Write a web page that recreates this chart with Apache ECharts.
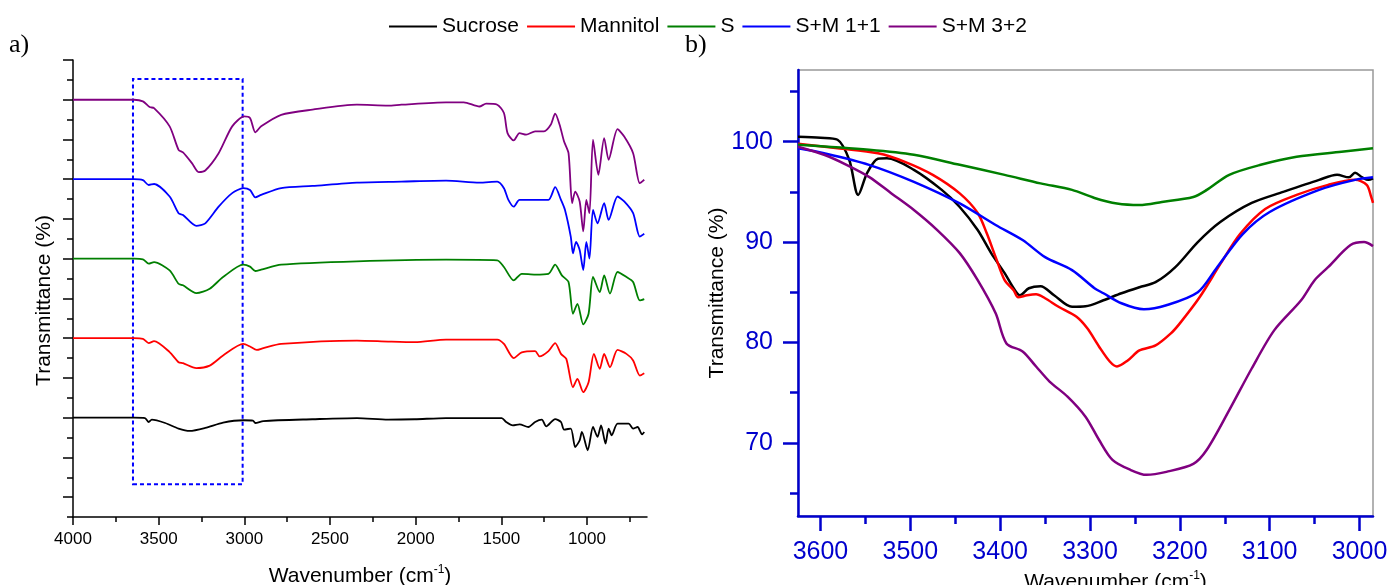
<!DOCTYPE html>
<html><head><meta charset="utf-8">
<script src="https://cdn.jsdelivr.net/npm/echarts@6/dist/echarts.min.js"></script>
<style>html,body{margin:0;padding:0;background:#fff}#c{width:1392px;height:585px}</style>
</head><body><div id="c"></div>
<script>
// ---------- names & colours ----------
const seriesNames = ['Sucrose', 'Mannitol', 'S', 'S+M 1+1', 'S+M 3+2'];
const seriesColors = ['#000000', '#FF0000', '#007F00', '#0000FF', '#800080'];

// ---------- panel a) full spectra, stacked (wavenumber, offset transmittance units) ----------
const fullSucrose = [[4000,5.0],[3644,5.0],[3580,4.98],[3558,4.78],[3540,4.90],[3462,4.73],[3384,4.45],[3319,4.33],[3228,4.48],[3124,4.75],[3006,4.87],[2950,4.85],[2936,4.73],[2889,4.83],[2603,4.92],[2343,4.98],[2161,4.90],[2005,4.92],[1823,4.98],[1498,4.98],[1472,4.78],[1433,4.61],[1394,4.66],[1342,4.53],[1303,4.78],[1264,4.90],[1238,4.56],[1186,4.93],[1152,4.78],[1134,4.40],[1095,4.45],[1069,3.52],[1043,3.86],[1030,4.28],[996,3.36],[965,4.53],[939,4.03],[918,4.61],[892,3.69],[874,4.45],[856,4.11],[822,4.70],[757,4.70],[731,4.45],[705,4.53],[679,4.16],[666,4.28]];
const fullMannitol = [[4000,9.0],[3644,9.0],[3592,8.97],[3558,8.75],[3527,8.85],[3436,8.30],[3384,7.79],[3358,7.74],[3280,7.49],[3202,7.62],[3124,8.13],[3006,8.71],[2967,8.58],[2928,8.41],[2889,8.50],[2785,8.71],[2343,8.88],[2161,8.83],[2005,8.80],[1823,8.93],[1524,8.93],[1485,8.71],[1428,8.0],[1381,8.29],[1303,8.35],[1277,8.08],[1225,8.35],[1186,8.75],[1152,8.21],[1121,7.96],[1082,6.53],[1056,6.95],[1022,6.28],[991,6.78],[960,8.21],[926,7.46],[900,8.21],[866,7.54],[822,8.41],[770,8.21],[731,7.88],[692,7.12],[666,7.24]];
const fullS = [[4000,13.0],[3644,13.0],[3592,12.97],[3558,12.75],[3527,12.83],[3436,12.41],[3384,11.74],[3358,11.66],[3280,11.27],[3202,11.49],[3124,12.08],[3006,12.70],[2967,12.60],[2936,12.38],[2902,12.45],[2785,12.70],[2343,12.87],[1823,12.95],[1524,12.92],[1485,12.58],[1428,11.91],[1381,12.24],[1303,12.2],[1225,12.24],[1186,12.70],[1147,12.16],[1108,11.83],[1082,10.23],[1056,10.73],[1022,9.69],[991,10.23],[965,12.08],[926,11.32],[900,12.16],[866,11.24],[822,12.33],[770,12.08],[731,11.83],[692,10.90],[666,10.97]];
const fullSM11 = [[4000,17.0],[3644,17.0],[3592,16.95],[3558,16.71],[3527,16.76],[3436,16.13],[3384,15.29],[3358,15.20],[3280,14.65],[3228,14.78],[3150,15.62],[3071,16.30],[3006,16.55],[2967,16.46],[2936,16.09],[2902,16.21],[2785,16.55],[2603,16.66],[2343,16.83],[2083,16.88],[1823,16.93],[1628,16.83],[1524,16.88],[1485,16.55],[1459,15.96],[1428,15.62],[1394,15.96],[1303,15.96],[1225,15.96],[1186,16.60],[1152,15.96],[1129,15.46],[1095,14.11],[1082,13.27],[1064,13.85],[1043,13.44],[1022,12.43],[1004,13.85],[986,13.01],[965,15.46],[939,14.78],[900,15.79],[874,14.95],[822,16.13],[783,15.88],[731,15.29],[692,14.11],[666,14.25]];
const fullSM32 = [[4000,21.0],[3644,21.0],[3592,20.92],[3553,20.63],[3527,20.58],[3436,19.66],[3384,18.48],[3358,18.35],[3306,17.81],[3267,17.36],[3228,17.44],[3150,18.31],[3071,19.66],[3001,20.16],[2967,20.08],[2936,19.36],[2902,19.66],[2785,20.24],[2603,20.50],[2343,20.75],[2161,20.70],[2083,20.75],[1823,20.87],[1719,20.87],[1628,20.66],[1589,20.80],[1524,20.75],[1485,20.33],[1464,19.32],[1428,18.95],[1394,19.32],[1355,19.24],[1303,19.41],[1251,19.41],[1212,19.74],[1186,20.30],[1160,19.74],[1134,18.90],[1108,18.31],[1087,15.80],[1069,16.38],[1043,15.88],[1022,14.37],[1004,15.96],[986,15.29],[965,18.99],[934,17.22],[900,19.07],[874,17.98],[822,19.52],[783,19.15],[731,18.31],[692,16.80],[666,16.97]];

// ---------- panel b) zoom 3625-2985 cm-1 (wavenumber, transmittance %) ----------
const zoomSucrose = [[3625,100.5],[3600,100.4],[3581,100.2],[3568,98.2],[3558,94.7],[3548,96.9],[3536,98.3],[3526,98.35],[3496,97.2],[3465,95.2],[3445,93.5],[3425,91.2],[3410,88.9],[3395,86.9],[3385,85.4],[3378,84.7],[3368,85.4],[3355,85.6],[3340,84.7],[3320,83.55],[3305,83.6],[3285,84.2],[3265,84.9],[3245,85.5],[3227,86.0],[3205,87.5],[3180,90.0],[3155,92.0],[3120,93.9],[3085,95.0],[3045,96.2],[3025,96.7],[3012,96.45],[3005,96.9],[2997,96.45],[2990,96.2],[2985,96.35]];
const zoomMannitol = [[3625,99.8],[3581,99.35],[3536,98.85],[3506,98.0],[3475,96.7],[3445,94.85],[3425,92.9],[3415,90.9],[3405,88.5],[3395,86.2],[3385,85.2],[3380,84.5],[3370,84.7],[3360,84.8],[3350,84.4],[3335,83.55],[3315,82.55],[3303,81.4],[3290,79.6],[3278,78.1],[3270,77.6],[3258,78.2],[3245,79.2],[3227,79.7],[3210,80.9],[3200,81.9],[3178,84.5],[3155,87.8],[3133,90.8],[3105,93.3],[3070,94.7],[3035,95.7],[3005,96.2],[2992,95.7],[2987,94.5],[2985,93.9]];
const zoomS = [[3625,99.7],[3546,99.2],[3496,98.7],[3445,97.7],[3395,96.7],[3355,95.85],[3320,95.2],[3295,94.4],[3270,93.85],[3245,93.7],[3220,94.0],[3185,94.5],[3170,95.2],[3145,96.7],[3110,97.7],[3070,98.5],[3020,99.0],[2985,99.35]];
const zoomSM11 = [[3625,99.35],[3596,98.85],[3546,97.7],[3496,96.0],[3445,93.85],[3405,91.7],[3375,90.2],[3350,88.5],[3320,87.2],[3295,85.4],[3285,84.9],[3265,83.9],[3240,83.3],[3215,83.7],[3180,85.0],[3160,87.3],[3130,90.8],[3100,93.0],[3045,95.2],[3005,96.2],[2985,96.45]];
const zoomSM32 = [[3625,99.5],[3596,98.7],[3571,97.7],[3546,96.5],[3521,94.85],[3496,93.2],[3470,91.2],[3445,88.9],[3425,86.2],[3405,82.9],[3393,79.9],[3375,79.1],[3360,77.6],[3345,76.1],[3325,74.6],[3305,72.6],[3290,70.3],[3275,68.3],[3255,67.3],[3237,66.8],[3215,67.1],[3185,67.9],[3170,69.3],[3145,73.25],[3120,77.4],[3095,81.2],[3065,84.2],[3050,86.2],[3035,87.5],[3010,89.7],[2995,90.0],[2985,89.6]];

// ---------- ticks ----------
const aXMajor = [1000,1500,2000,2500,3000,3500,4000];
const aXMinor = [750,1250,1750,2250,2750,3250,3750];
const aYMajor = [1,3,5,7,9,11,13,15,17,19,21,23];
const aYMinor = [0,2,4,6,8,10,12,14,16,18,20,22];
const bXMajor = [3000,3100,3200,3300,3400,3500,3600];
const bXMinor = [3050,3150,3250,3350,3450,3550];
const bYMajor = [70,80,90,100];
const bYMinor = [65,75,85,95,105];
// dashed zoom-region box in panel a): [wavenumber, offset units]
const zoomBox = [[3650, 1.65], [3010, 22.04]];

const fullData = [fullSucrose, fullMannitol, fullS, fullSM11, fullSM32];
const zoomData = [zoomSucrose, zoomMannitol, zoomS, zoomSM11, zoomSM32];

const FONT = 'Liberation Sans, Arial, sans-serif';
const BLUE_AX = '#0000CD';
const plain = v => String(Math.round(v));

const chart = echarts.init(document.getElementById('c'), null, {renderer: 'canvas'});

const series = [];
fullData.forEach((d, i) => {
  const s = {
    name: seriesNames[i], type: 'line', xAxisIndex: 0, yAxisIndex: 0,
    data: d, showSymbol: false, symbol: 'none', smooth: 0.25,
    lineStyle: {color: seriesColors[i], width: 1.8},
    itemStyle: {color: seriesColors[i]}, z: 3
  };
  if (i === 0) {
    s.markArea = {
      silent: true,
      itemStyle: {color: 'rgba(0,0,0,0)', borderColor: '#0000FF', borderWidth: 2, borderType: [4, 3]},
      data: [[{coord: zoomBox[0]}, {coord: zoomBox[1]}]]
    };
  }
  series.push(s);
});
zoomData.forEach((d, i) => {
  series.push({
    name: seriesNames[i], type: 'line', xAxisIndex: 2, yAxisIndex: 2,
    data: d, showSymbol: false, symbol: 'none', smooth: 0.3,
    lineStyle: {color: seriesColors[i], width: 2.5},
    itemStyle: {color: seriesColors[i]}, z: 3
  });
});

const nameRich = {
  sup: {fontSize: 12, fontFamily: FONT, color: '#000', verticalAlign: 'top', padding: [0, 0, 12, 0]}
};

chart.setOption({
  animation: false,
  backgroundColor: '#fff',
  legend: {
    data: seriesNames, left: 384, top: 11, icon: 'rect', itemWidth: 48, itemHeight: 2, itemGap: 8,
    textStyle: {fontSize: 21, fontFamily: FONT, color: '#000'}
  },
  graphic: [
    {type: 'text', left: 9, top: 32, style: {text: 'a)', font: '26px "Liberation Serif", serif', fill: '#000'}},
    {type: 'text', left: 685, top: 32, style: {text: 'b)', font: '26px "Liberation Serif", serif', fill: '#000'}}
  ],
  grid: [
    {left: 73, top: 60, width: 574, height: 457, show: false, containLabel: false, outerBoundsMode: 'none'},
    {left: 798, top: 70, width: 575, height: 446, show: true, borderColor: '#999', borderWidth: 1.5,
      backgroundColor: 'transparent', containLabel: false, outerBoundsMode: 'none'}
  ],
  xAxis: [
    {gridIndex: 0, type: 'value', min: 650, max: 4000, inverse: true,
      axisLine: {show: true, onZero: false, lineStyle: {color: '#000', width: 1.5}},
      axisTick: {show: true, inside: false, length: 8, customValues: aXMajor, lineStyle: {color: '#000', width: 1.5}},
      axisLabel: {show: true, customValues: aXMajor, formatter: plain, margin: 14, fontSize: 17, fontFamily: FONT, color: '#000'},
      splitLine: {show: false},
      name: 'Wavenumber (cm{sup|-1})', nameLocation: 'middle', nameGap: 47,
      nameTextStyle: {fontSize: 21, fontFamily: FONT, color: '#000', rich: nameRich}},
    {gridIndex: 0, type: 'value', min: 650, max: 4000, inverse: true, position: 'bottom',
      axisLine: {show: false}, axisLabel: {show: false}, splitLine: {show: false},
      axisTick: {show: true, length: 5, customValues: aXMinor, lineStyle: {color: '#000', width: 1.5}}},
    {gridIndex: 1, type: 'value', min: 2985, max: 3625, inverse: true,
      axisLine: {show: true, onZero: false, lineStyle: {color: BLUE_AX, width: 2.5}},
      axisTick: {show: true, length: 15, customValues: bXMajor, lineStyle: {color: BLUE_AX, width: 2.5}},
      axisLabel: {show: true, customValues: bXMajor, formatter: plain, margin: 24, fontSize: 25, fontFamily: FONT, color: BLUE_AX},
      splitLine: {show: false},
      name: 'Wavenumber (cm{sup|-1})', nameLocation: 'middle', nameGap: 51,
      nameTextStyle: {fontSize: 21, fontFamily: FONT, color: '#000', rich: nameRich, padding: [0, 0, 0, 60]}},
    {gridIndex: 1, type: 'value', min: 2985, max: 3625, inverse: true, position: 'bottom',
      axisLine: {show: false}, axisLabel: {show: false}, splitLine: {show: false},
      axisTick: {show: true, length: 8, customValues: bXMinor, lineStyle: {color: BLUE_AX, width: 2.5}}}
  ],
  yAxis: [
    {gridIndex: 0, type: 'value', min: 0, max: 23,
      axisLine: {show: true, onZero: false, lineStyle: {color: '#000', width: 1.5}},
      axisTick: {show: true, length: 10, customValues: aYMajor, lineStyle: {color: '#000', width: 1.5}},
      axisLabel: {show: false}, splitLine: {show: false},
      name: 'Transmittance (%)', nameLocation: 'middle', nameGap: 18, nameRotate: 90,
      nameTextStyle: {fontSize: 21, fontFamily: FONT, color: '#000', padding: [0, 24, 0, 0]}},
    {gridIndex: 0, type: 'value', min: 0, max: 23, position: 'left',
      axisLine: {show: false}, axisLabel: {show: false}, splitLine: {show: false},
      axisTick: {show: true, length: 6, customValues: aYMinor, lineStyle: {color: '#000', width: 1.5}}},
    {gridIndex: 1, type: 'value', min: 62.7, max: 107.15,
      axisLine: {show: true, onZero: false, lineStyle: {color: BLUE_AX, width: 2.5}},
      axisTick: {show: true, length: 15, customValues: bYMajor, lineStyle: {color: BLUE_AX, width: 2.5}},
      axisLabel: {show: true, customValues: bYMajor, formatter: plain, margin: 25, fontSize: 25, fontFamily: FONT, color: BLUE_AX},
      splitLine: {show: false},
      name: 'Transmittance (%)', nameLocation: 'middle', nameGap: 66, nameRotate: 90,
      nameTextStyle: {fontSize: 21, fontFamily: FONT, color: '#000'}},
    {gridIndex: 1, type: 'value', min: 62.7, max: 107.15, position: 'left',
      axisLine: {show: false}, axisLabel: {show: false}, splitLine: {show: false},
      axisTick: {show: true, length: 8, customValues: bYMinor, lineStyle: {color: BLUE_AX, width: 2.5}}}
  ],
  series: series
});
</script></body></html>
